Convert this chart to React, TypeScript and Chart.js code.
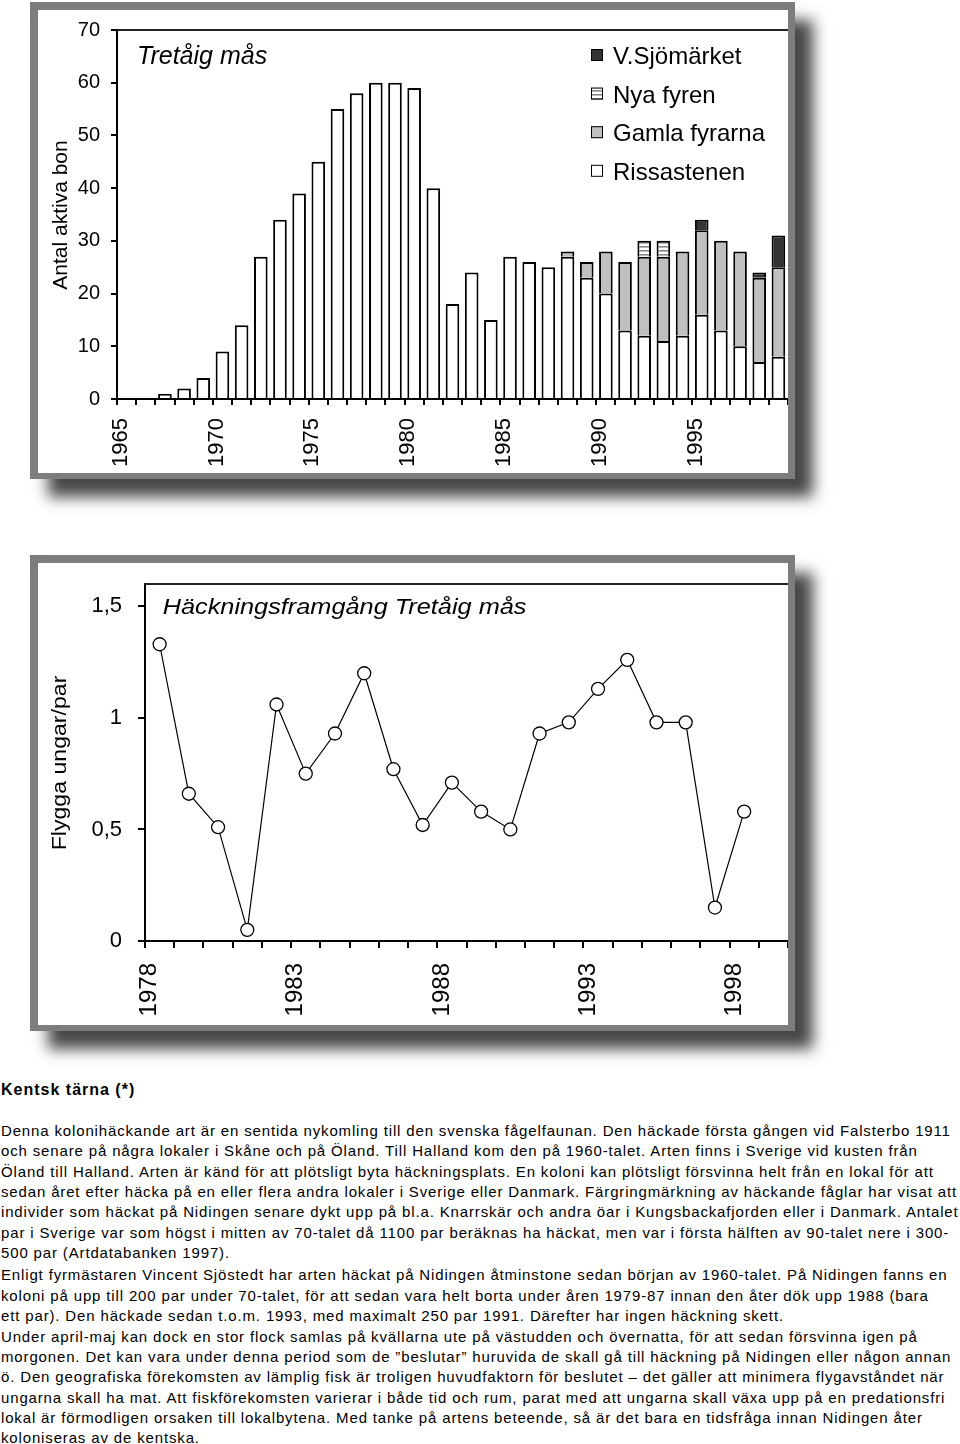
import React, { useEffect, useRef } from 'react';
import { Chart, registerables } from 'chart.js';

Chart.register(...registerables);

const FONT = '"Liberation Sans", Arial, Helvetica, sans-serif';

// ---------- Chart 1: Antal aktiva bon (stacked bars) ----------
const barYears = [
  '1965', '1966', '1967', '1968', '1969', '1970', '1971', '1972', '1973', '1974',
  '1975', '1976', '1977', '1978', '1979', '1980', '1981', '1982', '1983', '1984',
  '1985', '1986', '1987', '1988', '1989', '1990', '1991', '1992', '1993', '1994',
  '1995', '1996', '1997', '1998', '1999',
];
const rissastenen = [
  0, 0, 1, 2, 4, 9, 14, 27, 34, 39,
  45, 55, 58, 60, 60, 59, 40, 18, 24, 15,
  27, 26, 25, 27, 23, 20, 13, 12, 11, 12,
  16, 13, 10, 7, 8,
];
const gamlaFyrarna = [
  null, null, null, null, null, null, null, null, null, null,
  null, null, null, null, null, null, null, null, null, null,
  null, null, null, 1, 3, 8, 13, 15, 16, 16,
  16, 17, 18, 16, 17,
];
const nyaFyren = [
  null, null, null, null, null, null, null, null, null, null,
  null, null, null, null, null, null, null, null, null, null,
  null, null, null, null, null, null, null, 3, 3, null,
  null, null, null, null, null,
];
const vSjomarket = [
  null, null, null, null, null, null, null, null, null, null,
  null, null, null, null, null, null, null, null, null, null,
  null, null, null, null, null, null, null, null, null, null,
  2, null, null, 1, 6,
];
const barSeriesNames = ['Rissastenen', 'Gamla fyrarna', 'Nya fyren', 'V.Sjömärket'];
const barTitle = 'Tretåig mås';
const barYTitle = 'Antal aktiva bon';

// ---------- Chart 2: Häckningsframgång (line) ----------
const lineYears = [
  '1978', '1979', '1980', '1981', '1982', '1983', '1984', '1985', '1986', '1987', '1988',
  '1989', '1990', '1991', '1992', '1993', '1994', '1995', '1996', '1997', '1998', '1999',
];
const flyggaUngarPerPar = [
  1.33, 0.66, 0.51, 0.05, 1.06, 0.75, 0.93, 1.2, 0.77, 0.52, 0.71,
  0.58, 0.5, 0.93, 0.98, 1.13, 1.26, 0.98, 0.98, 0.15, 0.58,
];
const lineTitle = 'Häckningsframgång Tretåig mås';
const lineYTitle = 'Flygga ungar/par';

// ---------- Text ----------
const heading = 'Kentsk tärna (*)';
const paragraph1 = [
  'Denna kolonihäckande art är en sentida nykomling till den svenska fågelfaunan. Den häckade första gången vid Falsterbo 1911',
  'och senare på några lokaler i Skåne och på Öland. Till Halland kom den på 1960-talet. Arten finns i Sverige vid kusten från',
  'Öland till Halland. Arten är känd för att plötsligt byta häckningsplats. En koloni kan plötsligt försvinna helt från en lokal för att',
  'sedan året efter häcka på en eller flera andra lokaler i Sverige eller Danmark. Färgringmärkning av häckande fåglar har visat att',
  'individer som häckat på Nidingen senare dykt upp på bl.a. Knarrskär och andra öar i Kungsbackafjorden eller i Danmark. Antalet',
  'par i Sverige var som högst i mitten av 70-talet då 1100 par beräknas ha häckat, men var i första hälften av 90-talet nere i 300-',
  '500 par (Artdatabanken 1997).',
];
const paragraph2 = [
  'Enligt fyrmästaren Vincent Sjöstedt har arten häckat på Nidingen åtminstone sedan början av 1960-talet. På Nidingen fanns en',
  'koloni på upp till 200 par under 70-talet, för att sedan vara helt borta under åren 1979-87 innan den åter dök upp 1988 (bara',
  'ett par). Den häckade sedan t.o.m. 1993, med maximalt 250 par 1991. Därefter har ingen häckning skett.',
  'Under april-maj kan dock en stor flock samlas på kvällarna ute på västudden och övernatta, för att sedan försvinna igen på',
  'morgonen. Det kan vara under denna period som de ”beslutar” huruvida de skall gå till häckning på Nidingen eller någon annan',
  'ö. Den geografiska förekomsten av lämplig fisk är troligen huvudfaktorn för beslutet – det gäller att minimera flygavståndet när',
  'ungarna skall ha mat. Att fiskförekomsten varierar i både tid och rum, parat med att ungarna skall växa upp på en predationsfri',
  'lokal är förmodligen orsaken till lokalbytena. Med tanke på artens beteende, så är det bara en tidsfråga innan Nidingen åter',
  'koloniseras av de kentska.',
];

function drawText(ctx: CanvasRenderingContext2D, text: string, x: number, y: number, font: string, sx = 1) {
  ctx.save();
  ctx.font = font;
  ctx.fillStyle = '#000';
  ctx.textAlign = 'left';
  ctx.textBaseline = 'alphabetic';
  ctx.translate(x, y);
  ctx.scale(sx, 1);
  ctx.fillText(text, 0, 0);
  ctx.restore();
}

function drawVerticalText(ctx: CanvasRenderingContext2D, text: string, xBase: number, yCenter: number, font: string, sx = 1) {
  ctx.save();
  ctx.font = font;
  ctx.fillStyle = '#000';
  ctx.textAlign = 'center';
  ctx.textBaseline = 'alphabetic';
  ctx.translate(xBase, yCenter);
  ctx.rotate(-Math.PI / 2);
  ctx.scale(sx, 1);
  ctx.fillText(text, 0, 0);
  ctx.restore();
}

function drawTopLine(chart: any) {
  const { ctx, chartArea } = chart;
  ctx.save();
  ctx.strokeStyle = '#222';
  ctx.lineWidth = 2;
  ctx.beginPath();
  ctx.moveTo(chartArea.left, chartArea.top);
  ctx.lineTo(chartArea.right, chartArea.top);
  ctx.stroke();
  ctx.restore();
}

function makeStripePattern(): CanvasPattern | string {
  const pc = document.createElement('canvas');
  pc.width = 4;
  pc.height = 4;
  const p = pc.getContext('2d');
  if (!p) return '#ddd';
  p.fillStyle = '#ffffff';
  p.fillRect(0, 0, 4, 4);
  p.fillStyle = '#8a8a8a';
  p.fillRect(0, 0, 4, 1.6);
  const pat = p.createPattern(pc, 'repeat');
  return pat || '#ddd';
}

function frameStyle(left: number, top: number, width: number, height: number): React.CSSProperties {
  return {
    position: 'absolute',
    left,
    top,
    width,
    height,
    boxSizing: 'border-box',
    borderStyle: 'solid',
    borderColor: '#7d7d7d',
    borderWidth: '8px 7px 6px 8px',
    background: '#fff',
    boxShadow: '18px 18px 14px rgba(0,0,0,0.72)',
  };
}

export default function App() {
  const barRef = useRef<HTMLCanvasElement>(null);
  const lineRef = useRef<HTMLCanvasElement>(null);

  useEffect(() => {
    if (!barRef.current || !lineRef.current) return;
    const stripes = makeStripePattern();
    const barColors = ['#ffffff', '#c0c0c0', stripes, '#333333'];
    const barData = [rissastenen, gamlaFyrarna, nyaFyren, vSjomarket];

    const barOverlay = {
      id: 'barOverlay',
      afterDraw(chart: any) {
        const ctx = chart.ctx as CanvasRenderingContext2D;
        drawTopLine(chart);
        drawText(ctx, barTitle, 99, 53.5, `italic 25px ${FONT}`);
        drawVerticalText(ctx, barYTitle, 29, 205, `21px ${FONT}`);
        // legend (top to bottom: reversed stacking order)
        const ds = chart.data.datasets;
        const rows = [3, 2, 1, 0];
        rows.forEach((di: number, r: number) => {
          const top = 39 + r * 38.6;
          ctx.save();
          ctx.fillStyle = ds[di].backgroundColor;
          ctx.fillRect(553, top, 12, 12);
          ctx.strokeStyle = '#000';
          ctx.lineWidth = 1;
          ctx.strokeRect(553.5, top + 0.5, 11, 11);
          ctx.restore();
          drawText(ctx, ds[di].label, 575, top + 15, `24px ${FONT}`);
        });
      },
    };

    const barChart = new Chart(barRef.current, {
      type: 'bar',
      data: {
        labels: barYears,
        datasets: barData.map((d, i) => ({
          label: barSeriesNames[i],
          data: d,
          backgroundColor: barColors[i],
          borderColor: '#000',
          borderWidth: 2,
          borderSkipped: 'start',
          barPercentage: 0.71,
          categoryPercentage: 1,
          inflateAmount: 0,
          stack: 'bon',
        })) as any,
      },
      options: {
        animation: false,
        responsive: false,
        maintainAspectRatio: false,
        events: [],
        layout: { autoPadding: false, padding: { top: 20, left: 0, right: 0, bottom: 0 } },
        plugins: { legend: { display: false }, tooltip: { enabled: false }, title: { display: false } },
        scales: {
          x: {
            stacked: true,
            offset: true,
            grid: { offset: true, drawOnChartArea: false, color: '#000', tickLength: 6, lineWidth: 2 },
            border: { color: '#000', width: 2 },
            ticks: {
              autoSkip: false,
              minRotation: 90,
              maxRotation: 90,
              padding: 13,
              labelOffset: -6,
              color: '#000',
              font: { family: FONT, size: 22 },
              callback: (_v: any, i: number) => (Number(barYears[i]) % 5 === 0 ? barYears[i] : ''),
            },
            afterFit: (s: any) => {
              s.height = 74;
              s.paddingLeft = 0;
              s.paddingRight = 0;
            },
          },
          y: {
            stacked: true,
            min: 0,
            max: 70,
            grid: { drawOnChartArea: false, color: '#000', tickLength: 6, lineWidth: 2 },
            border: { color: '#000', width: 2 },
            ticks: { stepSize: 10, padding: 11, color: '#000', font: { family: FONT, size: 20 } },
            afterFit: (s: any) => {
              s.width = 79;
              s.paddingTop = 0;
              s.paddingBottom = 0;
            },
          },
        },
      } as any,
      plugins: [barOverlay],
    });

    const lineOverlay = {
      id: 'lineOverlay',
      afterDraw(chart: any) {
        const ctx = chart.ctx as CanvasRenderingContext2D;
        drawTopLine(chart);
        drawText(ctx, lineTitle, 124.7, 51.3, `italic 22px ${FONT}`, 1.15);
        drawVerticalText(ctx, lineYTitle, 27.5, 200, `21px ${FONT}`, 1.1);
      },
    };

    const lineChart = new Chart(lineRef.current, {
      type: 'line',
      data: {
        labels: lineYears,
        datasets: [
          {
            label: lineYTitle,
            data: flyggaUngarPerPar,
            borderColor: '#000',
            borderWidth: 1.2,
            tension: 0,
            pointRadius: 6.5,
            pointBackgroundColor: '#fff',
            pointBorderColor: '#000',
            pointBorderWidth: 1.3,
            fill: false,
          },
        ],
      },
      options: {
        animation: false,
        responsive: false,
        maintainAspectRatio: false,
        events: [],
        layout: { autoPadding: false, padding: { top: 21, left: 0, right: 0, bottom: 0 } },
        plugins: { legend: { display: false }, tooltip: { enabled: false }, title: { display: false } },
        scales: {
          x: {
            offset: true,
            grid: { offset: true, drawOnChartArea: false, color: '#000', tickLength: 7, lineWidth: 2 },
            border: { color: '#000', width: 2 },
            ticks: {
              autoSkip: false,
              minRotation: 90,
              maxRotation: 90,
              padding: 15,
              labelOffset: -10,
              color: '#000',
              font: { family: FONT, size: 24 },
              callback: (_v: any, i: number) => ((Number(lineYears[i]) - 1978) % 5 === 0 ? lineYears[i] : ''),
            },
            afterFit: (s: any) => {
              s.height = 84;
              s.paddingLeft = 0;
              s.paddingRight = 0;
            },
          },
          y: {
            min: 0,
            max: 1.6,
            grid: { drawOnChartArea: false, color: '#000', tickLength: 7, lineWidth: 2 },
            border: { color: '#000', width: 2 },
            ticks: {
              stepSize: 0.5,
              includeBounds: false,
              padding: 16,
              color: '#000',
              font: { family: FONT, size: 22 },
              callback: (v: any) => String(v).replace('.', ','),
            },
            afterFit: (s: any) => {
              s.width = 107;
              s.paddingTop = 0;
              s.paddingBottom = 0;
            },
          },
        },
      } as any,
      plugins: [lineOverlay],
    });

    return () => {
      barChart.destroy();
      lineChart.destroy();
    };
  }, []);

  const lineStyle = (top: number): React.CSSProperties => ({
    position: 'absolute',
    left: 1,
    top,
    height: 20,
    lineHeight: '20px',
    whiteSpace: 'nowrap',
    fontSize: 15,
    letterSpacing: '0.85px',
    color: '#000',
  });

  return (
    <div style={{ position: 'absolute', left: 0, top: 0, width: 960, height: 1444, background: '#fff', fontFamily: FONT, overflow: 'hidden' }}>
      <div style={frameStyle(30, 2, 765, 477)}>
        <canvas ref={barRef} width={750} height={463} style={{ display: 'block', width: 750, height: 463 }} />
      </div>
      <div style={frameStyle(30, 555, 765, 476)}>
        <canvas ref={lineRef} width={750} height={462} style={{ display: 'block', width: 750, height: 462 }} />
      </div>
      <div style={{ position: 'absolute', left: 1, top: 1080, height: 20, lineHeight: '20px', fontSize: 16, fontWeight: 'bold', letterSpacing: '1px', whiteSpace: 'nowrap' }}>
        {heading}
      </div>
      {paragraph1.map((t, i) => (
        <div key={'p1-' + i} style={lineStyle(1121 + i * 20.35)}>{t}</div>
      ))}
      {paragraph2.map((t, i) => (
        <div key={'p2-' + i} style={lineStyle(1121 + (i + paragraph1.length) * 20.35 + 2)}>{t}</div>
      ))}
    </div>
  );
}
